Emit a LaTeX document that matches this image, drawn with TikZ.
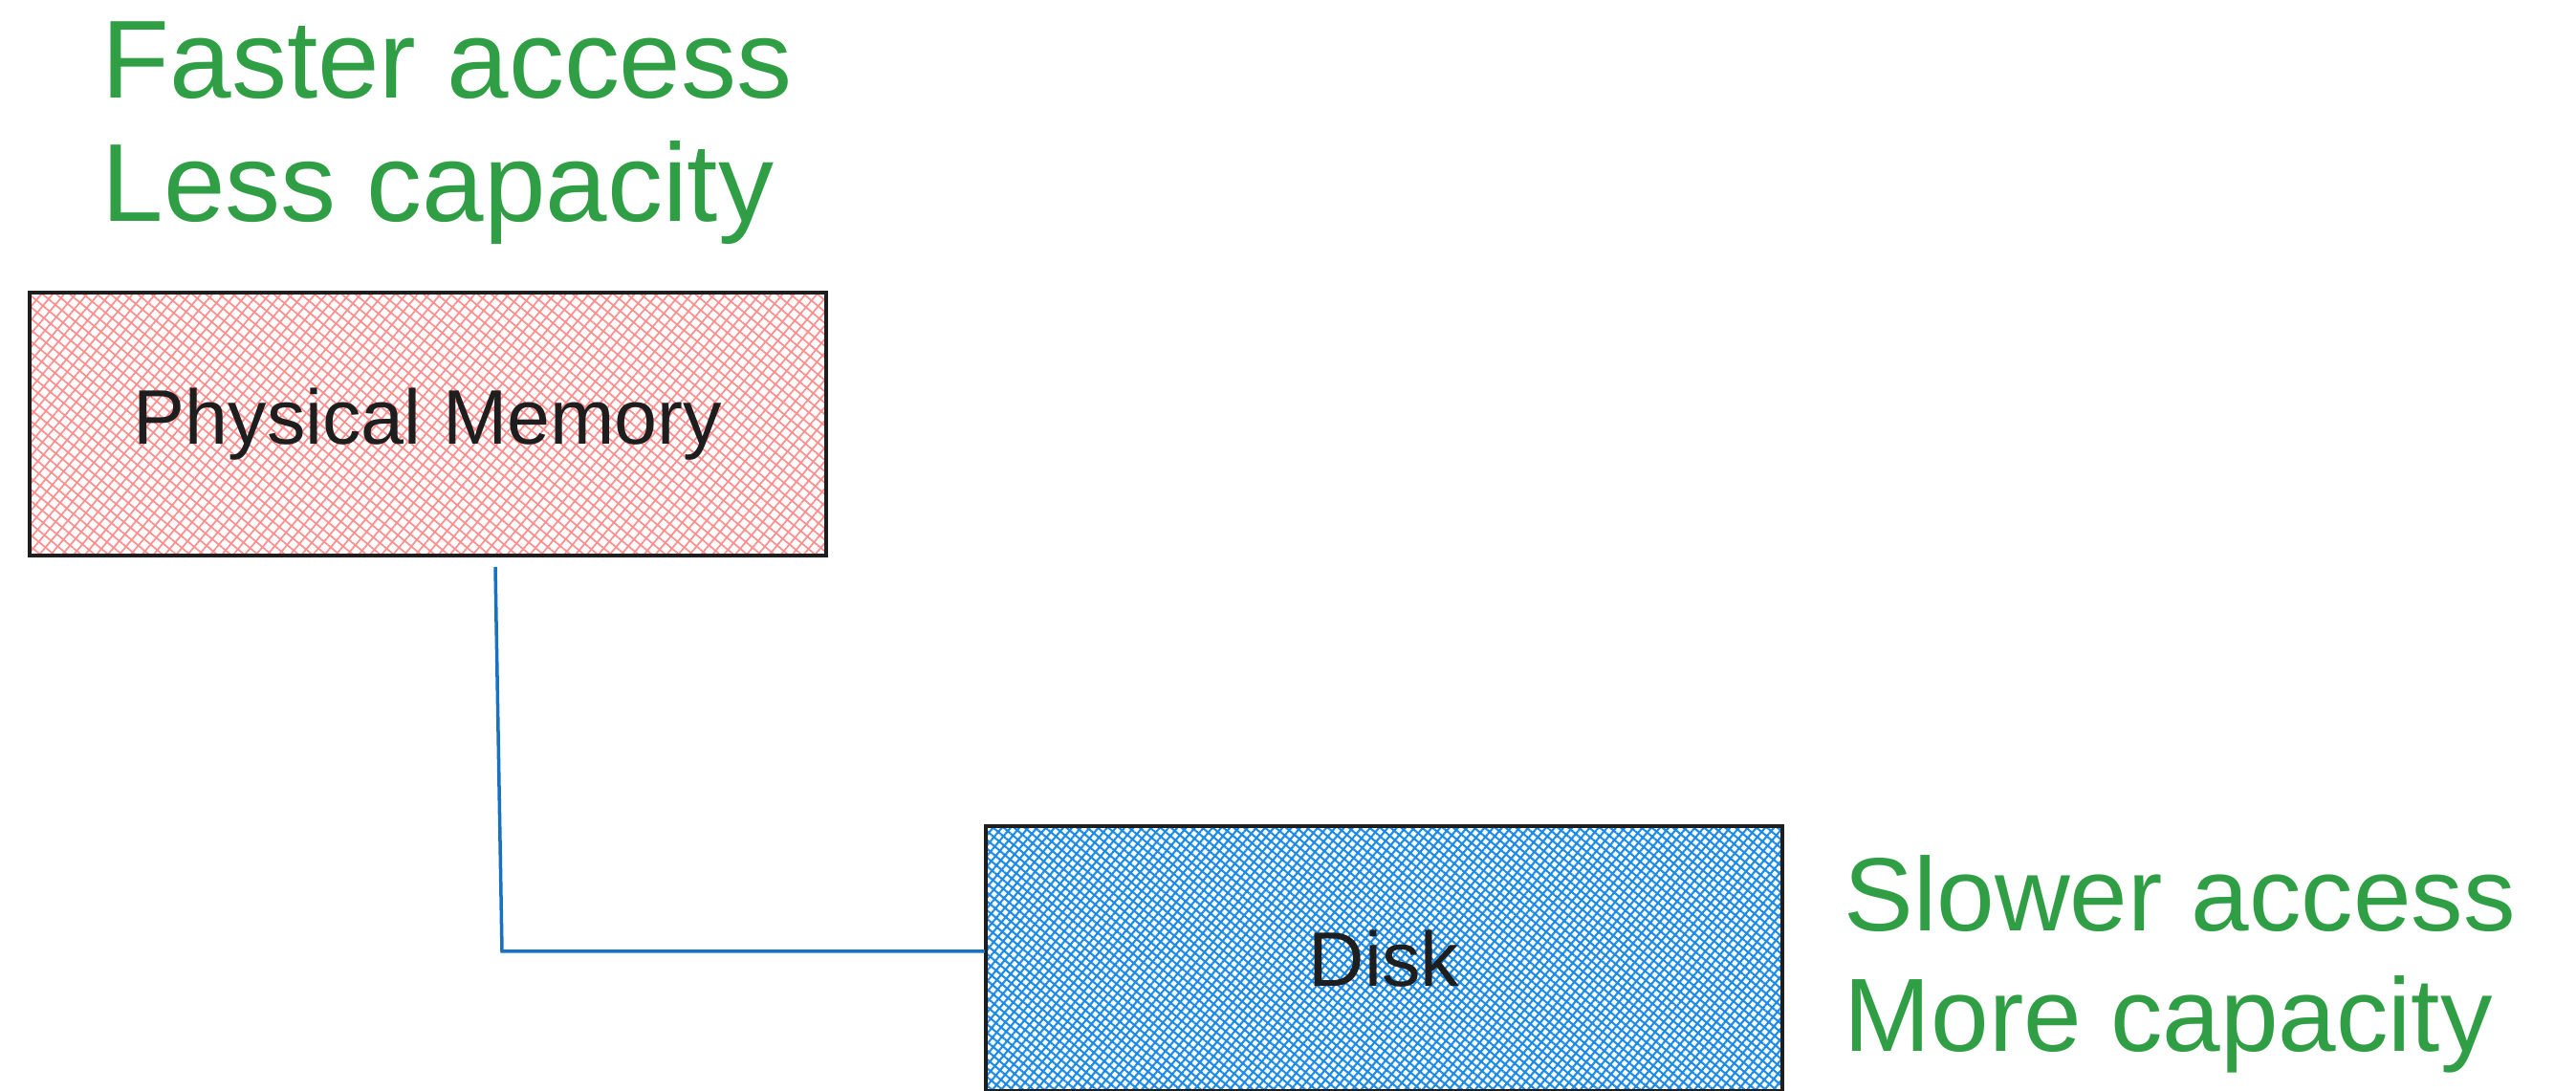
\documentclass[tikz,border=0pt]{standalone}
\usepackage{fontspec}
\setmainfont{Liberation Sans}
\usetikzlibrary{patterns.meta}

\definecolor{notegreen}{HTML}{2F9E44}
\definecolor{hatchred}{HTML}{FF8F8F}
\definecolor{hatchblue}{HTML}{1C8AE6}
\definecolor{linkblue}{HTML}{1971C2}
\definecolor{inkblack}{HTML}{1E1E1E}

\tikzset{
  note/.style={anchor=base west, inner sep=0pt, text=notegreen,
    font=\fontsize{33}{40}\selectfont},
  store/.style={draw=inkblack, line width=1.3pt, inner sep=0pt,
    minimum width=8.33cm, minimum height=2.75cm, text=inkblack,
    font=\fontsize{23}{28}\selectfont},
  hatch/.style 2 args={pattern={Lines[angle=50,distance=#1,line width=#2]},
    preaction={pattern={Lines[angle=-40,distance=#1,line width=#2]}}}
}

\begin{document}
\begin{tikzpicture}
\useasboundingbox (0,0) rectangle (26.94,11.41);

\node[note] (fast) at (1.06,10.38) {Faster access};
\node[note] (less) at (1.06,9.09) {Less capacity};

\node[store, hatch={2.6pt}{0.5pt}, pattern color=hatchred,
  preaction={pattern color=hatchred}] (mem) at (4.475,6.975) {Physical Memory};
\node[store, hatch={2.0pt}{0.6pt}, pattern color=hatchblue,
  preaction={pattern color=hatchblue},
  minimum height=2.77cm] (disk) at (14.475,1.385) {Disk};

\node[note, font=\fontsize{31}{38}\selectfont] (slow) at (19.28,1.67) {Slower access};
\node[note, font=\fontsize{31}{38}\selectfont] (more) at (19.28,0.41) {More capacity};

\coordinate (top) at (5.18,5.48);
\coordinate (bend) at (5.25,1.46);
\draw[linkblue, line width=1pt] (top) -- (bend) -- (bend -| disk.west);
\end{tikzpicture}
\end{document}
